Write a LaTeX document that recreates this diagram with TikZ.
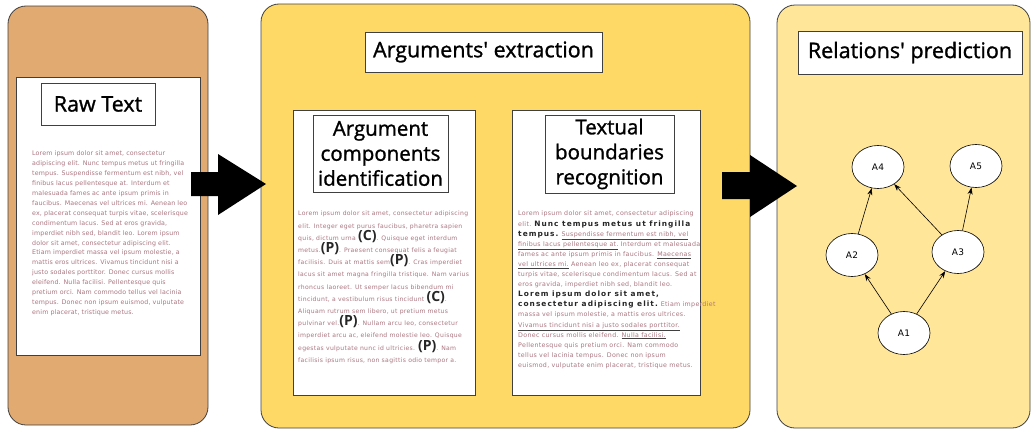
\documentclass[tikz,border=0pt]{standalone}
\usepackage{fontspec}
\setmainfont{Open Sans}
\newfontfamily\titlefont{Open Sans}[UprightFeatures={FakeBold=1.2}]
\newfontfamily\rawfont{DejaVu Sans}[LetterSpace=2.3]
\newfontfamily\loremfont{DejaVu Sans}[LetterSpace=5]
\newfontfamily\loremboldfont{DejaVu Sans}[LetterSpace=14]
\usetikzlibrary{arrows.meta,positioning,shapes.geometric}

\definecolor{rawbrown}{RGB}{224,170,112}
\definecolor{extryellow}{RGB}{255,217,102}
\definecolor{relyellow}{RGB}{255,230,153}
\definecolor{loremgray}{RGB}{170,118,128}
\definecolor{framegray}{RGB}{64,64,64}

% markers and boundaries inside the sample texts
\newcommand{\argmark}[1]{\raisebox{0pt}[0pt][0pt]{\titlefont\fontsize{14}{13}\selectfont\bfseries\color{black!85}(#1)}}
\newcommand{\bnd}[1]{{\color{framegray}\underline{\color{loremgray}#1}}}
\newcommand{\bld}[1]{{\loremboldfont\fontsize{7.4}{10.1}\selectfont\bfseries\color{black!85}#1}}

\tikzset{
  panel/.style={draw=framegray, line width=0.8pt, rounded corners=18pt},
  page/.style={draw=framegray, fill=white, line width=1pt},
  titlebox/.style={draw=framegray, fill=white, line width=0.8pt, inner sep=2pt,
    align=center, font=\titlefont\fontsize{21.5}{25}\selectfont},
  subtitlebox/.style={titlebox, font=\titlefont\fontsize{20.5}{25}\selectfont},
  lorem/.style={anchor=north west, inner sep=0pt, align=left, text=loremgray},
  argnode/.style={ellipse, draw=black, fill=white, line width=0.6pt,
    minimum width=52pt, minimum height=43pt, font=\loremfont\fontsize{9}{10}\selectfont},
  rel/.style={-{Stealth[length=7pt,width=5pt]}, line width=0.6pt},
  bigarrow/.style={fill=black}
}

\begin{document}
\begin{tikzpicture}[x=1pt,y=-1pt]
\useasboundingbox (0,0) rectangle (1034,431);

% Panels
\draw[panel, fill=rawbrown] (8,6) rectangle (208,425);
\draw[panel, fill=extryellow] (261,4) rectangle (750,428);
\draw[panel, fill=relyellow] (777,5) rectangle (1030,428);

% Raw text
\draw[page] (16,77) rectangle (200,355);
\node[titlebox, minimum width=114pt, minimum height=42pt] (rawtitle) at (98,104) {Raw Text};
\node[lorem, font=\rawfont\fontsize{6.3}{9.9}\selectfont] (rawtext) at (32,151) {%
Lorem ipsum dolor sit amet, consectetur\\
adipiscing elit. Nunc tempus metus ut fringilla\\
tempus. Suspendisse fermentum est nibh, vel\\
finibus lacus pellentesque at. Interdum et\\
malesuada fames ac ante ipsum primis in\\
faucibus. Maecenas vel ultrices mi. Aenean leo\\
ex, placerat consequat turpis vitae, scelerisque\\
condimentum lacus. Sed at eros gravida,\\
imperdiet nibh sed, blandit leo. Lorem ipsum\\
dolor sit amet, consectetur adipiscing elit.\\
Etiam imperdiet massa vel ipsum molestie, a\\
mattis eros ultrices. Vivamus tincidunt nisi a\\
justo sodales porttitor. Donec cursus mollis\\
eleifend. Nulla facilisi. Pellentesque quis\\
pretium orci. Nam commodo tellus vel lacinia\\
tempus. Donec non ipsum euismod, vulputate\\
enim placerat, tristique metus.};

% Arguments' extraction
\node[titlebox, minimum width=237pt, minimum height=40pt] (extrtitle) at (483.5,52) {Arguments' extraction};

\draw[page] (293,110) rectangle (475,395);
\node[subtitlebox, minimum width=135pt, minimum height=77pt] (comptitle) at (380.5,153.5) {Argument\\components\\identification};
\node[lorem, font=\loremfont\fontsize{6.1}{12.2}\selectfont] (comptext) at (298,211) {%
Lorem ipsum dolor sit amet, consectetur adipiscing\\
elit. Integer eget purus faucibus, pharetra sapien\\
quis, dictum urna \argmark{C}. Quisque eget interdum\\
metus.\argmark{P}. Praesent consequat felis a feugiat\\
facilisis. Duis at mattis sem\argmark{P}. Cras imperdiet\\
lacus sit amet magna fringilla tristique. Nam varius\\
rhoncus laoreet. Ut semper lacus bibendum mi\\
tincidunt, a vestibulum risus tincidunt \argmark{C}.\\
Aliquam rutrum sem libero, ut pretium metus\\
pulvinar vel.\argmark{P}. Nullam arcu leo, consectetur\\
imperdiet arcu ac, eleifend molestie leo. Quisque\\
egestas vulputate nunc id ultricies. \argmark{P}. Nam\\
facilisis ipsum risus, non sagittis odio tempor a.};

\draw[page] (512,110) rectangle (700,395);
\node[subtitlebox, minimum width=129pt, minimum height=78pt] (bndtitle) at (609.5,154) {Textual\\boundaries\\recognition};
\node[lorem, font=\loremfont\fontsize{6.3}{10.1}\selectfont] (bndtext) at (518,211) {%
Lorem ipsum dolor sit amet, consectetur adipiscing\\
elit. \bld{Nunc tempus metus ut fringilla}\\
\bld{tempus.} \bnd{Suspendisse fermentum est nibh, vel}\\
\bnd{finibus lacus pellentesque at.} Interdum et malesuada\\
fames ac ante ipsum primis in faucibus. \bnd{Maecenas}\\
\bnd{vel ultrices mi.} Aenean leo ex, placerat consequat\\
turpis vitae, scelerisque condimentum lacus. Sed at\\
eros gravida, imperdiet nibh sed, blandit leo.\\
\bld{Lorem ipsum dolor sit amet,}\\
\bld{consectetur adipiscing elit.} Etiam imperdiet\\
massa vel ipsum molestie, a mattis eros ultrices.\\
\bnd{Vivamus tincidunt nisi a justo sodales porttitor.}\\
Donec cursus mollis eleifend. \bnd{Nulla facilisi.}\\
Pellentesque quis pretium orci. Nam commodo\\
tellus vel lacinia tempus. Donec non ipsum\\
euismod, vulputate enim placerat, tristique metus.};

% Relations' prediction
\node[titlebox, minimum width=224pt, minimum height=43pt] (reltitle) at (910,52.5) {Relations' prediction};

\foreach \n/\x/\y in {A1/904/333, A2/852/255, A3/958/252, A4/878/167, A5/976/166}
  \node[argnode] (\n) at (\x,\y) {\n};

\foreach \a/\b in {A1/A2, A1/A3, A2/A4, A3/A4, A3/A5}
  \draw[rel] (\a) -- (\b);

% Block arrows between the stages
\fill[bigarrow] (191,172) -- (218,172) -- (218,154) -- (266,184)
  -- (218,215) -- (218,196) -- (191,196) -- cycle;
\fill[bigarrow] (722,172) -- (750,172) -- (750,155) -- (797,186)
  -- (750,217) -- (750,199) -- (722,199) -- cycle;

\end{tikzpicture}
\end{document}
